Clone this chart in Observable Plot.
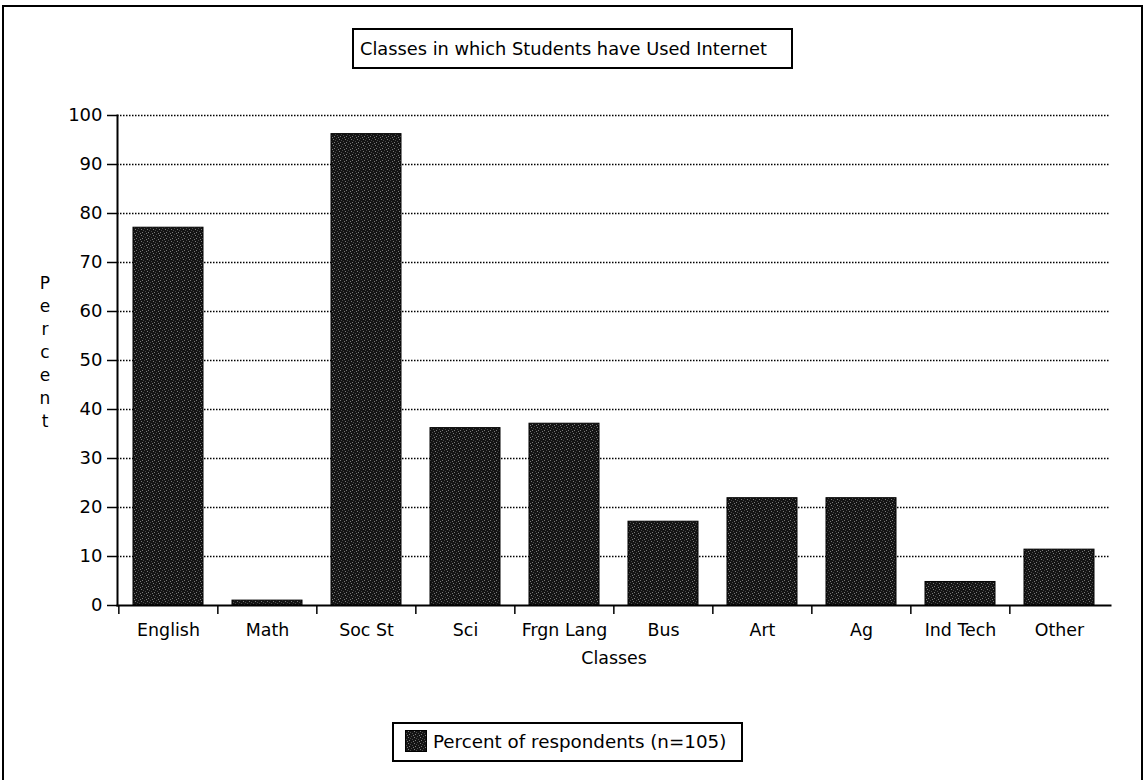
<!DOCTYPE html>
<html>
<head>
<meta charset="utf-8">
<script src="https://cdn.jsdelivr.net/npm/d3@7"></script>
<script src="https://cdn.jsdelivr.net/npm/@observablehq/plot@0.6"></script>
<style>
  html, body { margin: 0; padding: 0; background: #fff; }
  body { width: 1145px; height: 780px; position: relative; overflow: hidden; font-family: "DejaVu Sans", sans-serif; color: #000; }
  #frame { position: absolute; left: 2px; top: 5px; width: 1137px; height: 800px; border: 2px solid #000; }
  #title { position: absolute; left: 352px; top: 28px; width: 431px; height: 37px; border: 2px solid #000; font-size: 17.8px; line-height: 37px; padding-left: 6px; white-space: nowrap; }
  #ylabel { position: absolute; left: 35px; top: 272px; width: 20px; text-align: center; font-size: 17px; line-height: 23px; }
  #chart { position: absolute; left: 0; top: 90px; }
  #legend { position: absolute; left: 392px; top: 722px; width: 347px; height: 36px; border: 2px solid #000; font-size: 18.3px; line-height: 36px; }
  #legend svg { position: absolute; left: 11px; top: 6px; }
  #legend span { position: absolute; left: 39px; top: 0; white-space: nowrap; }
</style>
</head>
<body>
<div id="frame"></div>
<div id="title"></div>
<div id="ylabel"></div>
<div id="chart"></div>
<div id="legend"></div>
<script>
const titleText = "Classes in which Students have Used Internet";
const yLabel = "Percent";
const xLabel = "Classes";
const legendLabel = "Percent of respondents (n=105)";
const categories = ["English", "Math", "Soc St", "Sci", "Frgn Lang", "Bus", "Art", "Ag", "Ind Tech", "Other"];
const percents = [77.1, 1.0, 96.2, 36.2, 37.1, 17.1, 21.9, 21.9, 4.8, 11.4];
const yTicks = [0, 10, 20, 30, 40, 50, 60, 70, 80, 90, 100];

const data = categories.map((c, i) => ({category: c, percent: percents[i]}));

document.getElementById("title").textContent = titleText;
document.getElementById("ylabel").innerHTML = yLabel.split("").map(ch => `<div>${ch}</div>`).join("");

const W = 1145, H = 590;
const mL = 117, mR = 35, mT = 25, mB = 75;
const step = (W - mL - mR) / categories.length;

const chart = Plot.plot({
  width: W,
  height: H,
  marginLeft: mL,
  marginRight: mR,
  marginTop: mT,
  marginBottom: mB,
  style: {fontFamily: "DejaVu Sans, sans-serif", fontSize: "17px", color: "#000", background: "transparent"},
  x: {domain: categories, paddingInner: 0.29, paddingOuter: 0.145, label: null},
  y: {domain: [0, 100], label: null},
  marks: [
    Plot.gridY(yTicks.filter(d => d > 0), {stroke: "#000", strokeOpacity: 1, strokeWidth: 1.3, strokeDasharray: "1.5,1.5"}),
    Plot.barY(data, {x: "category", y: "percent", fill: "url(#tex)", stroke: "#000", strokeWidth: 1}),
    Plot.axisY({ticks: yTicks, tickSize: 10, tickPadding: 5, fontSize: 18, stroke: "#000", strokeWidth: 1.5, label: null}),
    Plot.axisX({tickSize: 0, tickPadding: 18, fontSize: 17.4, label: null}),
    Plot.axisX({tickSize: 9, text: null, dx: -step / 2, stroke: "#000", strokeWidth: 1.5, label: null}),
    Plot.frame({anchor: "left", stroke: "#000", strokeWidth: 2}),
    Plot.frame({anchor: "bottom", stroke: "#000", strokeWidth: 2}),
    Plot.text([xLabel], {frameAnchor: "bottom", dy: 58, fontSize: 17.4, fill: "#000"})
  ]
});

// stipple texture for bars
function addPattern(svgNode, id) {
  const svg = d3.select(svgNode);
  const defs = svg.insert("defs", ":first-child");
  const p = defs.append("pattern").attr("id", id).attr("patternUnits", "userSpaceOnUse")
    .attr("width", 6).attr("height", 6);
  p.append("rect").attr("width", 6).attr("height", 6).attr("fill", "#141414");
  const dots = [[0,0],[3,1],[1,3],[4,4],[5,2],[2,5]];
  dots.forEach(([x, y], i) => p.append("rect").attr("x", x).attr("y", y).attr("width", 1).attr("height", 1)
    .attr("fill", i % 2 ? "#7a7a7a" : "#4a4a4a"));
}
addPattern(chart, "tex");
document.getElementById("chart").appendChild(chart);

// legend
const leg = document.getElementById("legend");
const sw = d3.create("svg").attr("width", 22).attr("height", 22);
sw.append("rect").attr("x", 0.5).attr("y", 0.5).attr("width", 21).attr("height", 21)
  .attr("fill", "url(#tex)").attr("stroke", "#000");
leg.appendChild(sw.node());
const span = document.createElement("span");
span.textContent = legendLabel;
leg.appendChild(span);
</script>
</body>
</html>
